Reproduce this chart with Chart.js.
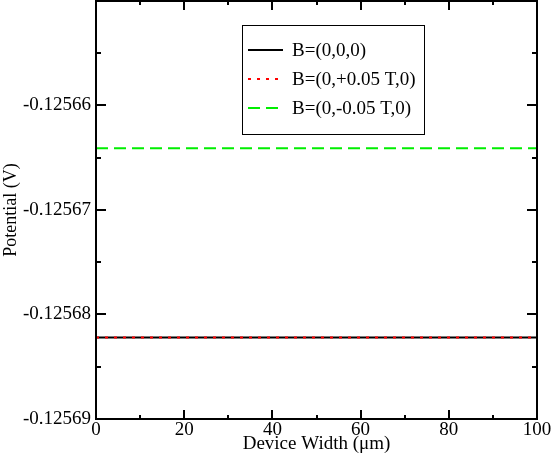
<!DOCTYPE html>
<html>
<head>
<meta charset="utf-8">
<script src="https://cdn.jsdelivr.net/npm/chart.js@4/dist/chart.umd.min.js"></script>
<style>
  html, body { margin: 0; padding: 0; background: #fff; }
  #wrap { width: 551px; height: 460px; }
</style>
</head>
<body>
<div id="wrap"><canvas id="potChart" width="551" height="460"></canvas></div>
<script>
// data
const xRange = [0, 100];
const seriesNames = ["B=(0,0,0)", "B=(0,+0.05 T,0)", "B=(0,-0.05 T,0)"];
const zeroField = [-0.1256822, -0.1256822];
const plusField = [-0.1256822, -0.1256822];
const minusField = [-0.1256641, -0.1256641];
const yTicks = [-0.12569, -0.12568, -0.12567, -0.12566];
const xTicks = [0, 20, 40, 60, 80, 100];

const FONT = "'Liberation Serif', 'DejaVu Serif', serif";

function pts(vals) {
  return xRange.map((x, i) => ({ x: x, y: vals[i] }));
}

// box, inward ticks on all four sides, legend
const framePlugin = {
  id: "frame",
  afterDatasetsDraw(chart) {
    const ctx = chart.ctx;
    const a = chart.chartArea;
    const xs = chart.scales.x, ys = chart.scales.y;
    ctx.save();
    ctx.strokeStyle = "#000";
    ctx.lineWidth = 2;
    ctx.strokeRect(a.left, a.top, a.right - a.left, a.bottom - a.top);
    ctx.beginPath();
    for (let v = 0; v <= 100; v += 10) {
      const px = Math.round(xs.getPixelForValue(v));
      const len = v % 20 === 0 ? 9 : 4;
      ctx.moveTo(px, a.bottom); ctx.lineTo(px, a.bottom - len);
      ctx.moveTo(px, a.top); ctx.lineTo(px, a.top + len);
    }
    for (let i = 0; i <= 8; i++) {
      const v = -0.12569 + i * 0.000005;
      const py = Math.round(ys.getPixelForValue(v));
      const len = i % 2 === 0 ? 10 : 5;
      ctx.moveTo(a.left, py); ctx.lineTo(a.left + len, py);
      ctx.moveTo(a.right, py); ctx.lineTo(a.right - len, py);
    }
    ctx.stroke();

    // legend box
    const bx = 242, by = 25, bw = 182, bh = 109;
    ctx.fillStyle = "#fff";
    ctx.fillRect(bx, by, bw, bh);
    ctx.lineWidth = 1;
    ctx.strokeRect(bx + 0.5, by + 0.5, bw, bh);
    ctx.font = "19px " + FONT;
    ctx.textBaseline = "middle";
    chart.data.datasets.forEach((ds, i) => {
      const ly = 50 + i * 29;
      ctx.strokeStyle = ds.borderColor;
      ctx.lineWidth = 2;
      ctx.setLineDash(ds.borderDash || []);
      ctx.beginPath();
      ctx.moveTo(248, ly); ctx.lineTo(283, ly);
      ctx.stroke();
      ctx.setLineDash([]);
      ctx.fillStyle = "#000";
      ctx.fillText(ds.label, 292, ly + 1);
    });
    ctx.restore();
  }
};

new Chart(document.getElementById("potChart"), {
  type: "line",
  data: {
    datasets: [
      { label: seriesNames[0], data: pts(zeroField), borderColor: "#000", borderWidth: 2, order: 2 },
      { label: seriesNames[1], data: pts(plusField), borderColor: "#ff0000", borderWidth: 2, borderDash: [3, 6], order: 1 },
      { label: seriesNames[2], data: pts(minusField), borderColor: "#00ee00", borderWidth: 2, borderDash: [12, 6], order: 3 }
    ]
  },
  options: {
    responsive: false,
    animation: false,
    events: [],
    elements: { point: { radius: 0 }, line: { tension: 0 } },
    layout: { padding: { left: 0, top: 1, right: 14, bottom: 0 } },
    plugins: { legend: { display: false }, tooltip: { enabled: false } },
    scales: {
      x: {
        type: "linear",
        min: xRange[0], max: xRange[1],
        afterFit(s) { s.height = 41; s.paddingLeft = 0; s.paddingRight = 0; },
        afterBuildTicks(s) { s.ticks = xTicks.map(v => ({ value: v })); },
        grid: { display: false, drawTicks: false },
        border: { display: false },
        ticks: { color: "#000", font: { family: FONT, size: 19 }, padding: 0, maxRotation: 0 },
        title: { display: true, text: "Device Width (\u03bcm)", color: "#000", font: { family: FONT, size: 19 }, padding: { top: 0, bottom: 5 } }
      },
      y: {
        min: -0.12569, max: -0.12565,
        afterFit(s) { s.width = 96; s.paddingTop = 0; s.paddingBottom = 0; },
        afterBuildTicks(s) { s.ticks = yTicks.map(v => ({ value: v })); },
        grid: { display: false, drawTicks: false },
        border: { display: false },
        ticks: { color: "#000", font: { family: FONT, size: 19 }, padding: 5, callback: v => v.toFixed(5) },
        title: { display: true, text: "Potential (V)", color: "#000", font: { family: FONT, size: 18 }, padding: { top: 0, bottom: 0 } }
      }
    }
  },
  plugins: [framePlugin]
});
</script>
</body>
</html>
